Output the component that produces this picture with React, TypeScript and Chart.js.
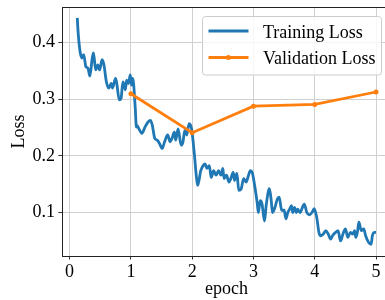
import React, { useEffect, useRef } from "react";
import { Chart, registerables } from "chart.js";

Chart.register(...registerables);

const seriesNames = ["Training Loss", "Validation Loss"];
const xTitle = "epoch";
const yTitle = "Loss";
const xTicks = [0, 1, 2, 3, 4, 5];
const yTicks = [0.1, 0.2, 0.3, 0.4];

const trainEpochs = [
  0.125, 0.14, 0.17, 0.2, 0.23, 0.265, 0.3, 0.33, 0.37, 0.39, 0.425, 0.46, 0.49, 0.53, 0.56, 0.6,
  0.64, 0.68, 0.7, 0.75, 0.77, 0.81, 0.84, 0.87, 0.91, 0.93, 0.96, 0.99, 1.01, 1.03, 1.07, 1.09,
  1.1, 1.13, 1.18, 1.23, 1.28, 1.32, 1.35, 1.39, 1.43, 1.48, 1.51, 1.55, 1.6, 1.64, 1.67, 1.71,
  1.73, 1.77, 1.82, 1.85, 1.88, 1.91, 1.95, 1.99, 2.01, 2.04, 2.07, 2.09, 2.14, 2.18, 2.21, 2.24,
  2.28, 2.31, 2.35, 2.39, 2.43, 2.47, 2.5, 2.52, 2.56, 2.6, 2.63, 2.67, 2.69, 2.73, 2.76, 2.8,
  2.84, 2.88, 2.92, 2.95, 2.98, 3.01, 3.06, 3.08, 3.11, 3.14, 3.18, 3.21, 3.26, 3.29, 3.31, 3.35,
  3.39, 3.42, 3.46, 3.5, 3.53, 3.56, 3.59, 3.62, 3.64, 3.67, 3.7, 3.72, 3.76, 3.81, 3.83, 3.87,
  3.91, 3.96, 3.99, 4.03, 4.07, 4.1, 4.14, 4.18, 4.22, 4.26, 4.29, 4.34, 4.38, 4.42, 4.46, 4.5,
  4.54, 4.58, 4.62, 4.65, 4.67, 4.7, 4.72, 4.76, 4.8, 4.83, 4.88, 4.92, 4.94, 4.98, 5.0,
];
const trainLoss = [
  0.444, 0.417, 0.385, 0.373, 0.379, 0.358, 0.355, 0.341, 0.373, 0.382, 0.352, 0.361, 0.352, 0.37, 0.361, 0.331,
  0.32, 0.328, 0.32, 0.337, 0.328, 0.299, 0.302, 0.331, 0.317, 0.334, 0.328, 0.343, 0.325, 0.337, 0.287, 0.251,
  0.254, 0.248, 0.24, 0.251, 0.26, 0.263, 0.254, 0.231, 0.228, 0.219, 0.213, 0.225, 0.237, 0.225, 0.231, 0.242,
  0.228, 0.248, 0.219, 0.225, 0.245, 0.237, 0.257, 0.248, 0.231, 0.198, 0.162, 0.148, 0.174, 0.183, 0.186, 0.178,
  0.183, 0.162, 0.174, 0.166, 0.174, 0.166, 0.178, 0.16, 0.166, 0.154, 0.16, 0.171, 0.157, 0.169, 0.139, 0.142,
  0.16, 0.154, 0.166, 0.174, 0.171, 0.154, 0.118, 0.1, 0.121, 0.115, 0.085, 0.115, 0.142, 0.121, 0.1, 0.109,
  0.124, 0.127, 0.104, 0.104, 0.089, 0.1, 0.106, 0.112, 0.1, 0.109, 0.1, 0.106, 0.1, 0.112, 0.115, 0.1,
  0.096, 0.101, 0.107, 0.093, 0.064, 0.059, 0.062, 0.068, 0.062, 0.053, 0.059, 0.065, 0.068, 0.05, 0.062, 0.071,
  0.056, 0.065, 0.062, 0.068, 0.056, 0.068, 0.083, 0.068, 0.071, 0.059, 0.047, 0.044, 0.059, 0.065, 0.065,
];

const valEpochs = [1, 2, 3, 4, 5];
const valLoss = [0.31, 0.241, 0.288, 0.291, 0.313];

const FONT = "'Liberation Serif', 'DejaVu Serif', serif";
const BLUE = "#1f77b4";
const ORANGE = "#ff7f0e";

const framePlugin = {
  id: "frameAndLegend",
  afterDraw(chart: any) {
    const { ctx, chartArea: a } = chart;
    ctx.save();
    // top spine
    ctx.strokeStyle = "#222";
    ctx.lineWidth = 1;
    ctx.beginPath();
    ctx.moveTo(a.left, a.top + 0.5);
    ctx.lineTo(a.right, a.top + 0.5);
    ctx.stroke();

    // legend box
    const bx = 202.5, by = 16.5, bw = 179, bh = 58.5;
    ctx.beginPath();
    ctx.roundRect(bx, by, bw, bh, 3);
    ctx.fillStyle = "rgba(255,255,255,0.8)";
    ctx.fill();
    ctx.strokeStyle = "#cccccc";
    ctx.lineWidth = 1;
    ctx.stroke();

    const rows = [
      { name: seriesNames[0], color: BLUE, y: 31, marker: false },
      { name: seriesNames[1], color: ORANGE, y: 57.5, marker: true },
    ];
    ctx.font = `18px ${FONT}`;
    ctx.textBaseline = "alphabetic";
    ctx.textAlign = "left";
    for (const r of rows) {
      ctx.strokeStyle = r.color;
      ctx.lineWidth = 2.8;
      ctx.beginPath();
      ctx.moveTo(208.5, r.y);
      ctx.lineTo(248.5, r.y);
      ctx.stroke();
      if (r.marker) {
        ctx.fillStyle = r.color;
        ctx.beginPath();
        ctx.arc(228.5, r.y, 2.5, 0, Math.PI * 2);
        ctx.fill();
      }
      ctx.fillStyle = "#000";
      ctx.fillText(r.name, 263, r.y + 6.5);
    }
    ctx.restore();
  },
};

const zeroPad = (s: any) => {
  s.paddingTop = 0;
  s.paddingBottom = 0;
  s.paddingLeft = 0;
  s.paddingRight = 0;
};

export default function App() {
  const ref = useRef<HTMLCanvasElement | null>(null);

  useEffect(() => {
    if (!ref.current) return;
    const chart = new Chart(ref.current, {
      type: "line",
      data: {
        datasets: [
          {
            label: seriesNames[0],
            data: trainEpochs.map((x, i) => ({ x, y: trainLoss[i] })),
            borderColor: BLUE,
            backgroundColor: BLUE,
            borderWidth: 2.8,
            pointRadius: 0,
            cubicInterpolationMode: "monotone",
            order: 1,
          },
          {
            label: seriesNames[1],
            data: valEpochs.map((x, i) => ({ x, y: valLoss[i] })),
            borderColor: ORANGE,
            backgroundColor: ORANGE,
            borderWidth: 2.8,
            pointRadius: 2.5,
            pointBorderWidth: 0,
            tension: 0,
            order: 0,
          },
        ],
      },
      options: {
        animation: false,
        responsive: false,
        devicePixelRatio: 1,
        layout: { padding: { top: 7, left: 0, right: 0, bottom: 0 } },
        plugins: { legend: { display: false }, tooltip: { enabled: false } },
        scales: {
          x: {
            type: "linear",
            min: -0.124,
            max: 5.244,
            afterBuildTicks: (s: any) => {
              s.ticks = xTicks.map((v) => ({ value: v }));
            },
            afterFit: (s: any) => {
              s.height = 44;
              zeroPad(s);
            },
            ticks: {
              font: { family: FONT, size: 18 },
              color: "#000",
              padding: 2,
              maxRotation: 0,
              callback: (v: any) => String(v),
            },
            grid: {
              color: "#d0d0d0",
              lineWidth: 1,
              tickColor: "#333",
              tickLength: 3.5,
              tickWidth: 1,
            },
            border: { display: true, color: "#222", width: 1 },
            title: {
              display: true,
              text: xTitle,
              font: { family: FONT, size: 18 },
              color: "#000",
              padding: { top: 0, bottom: 0 },
            },
          },
          y: {
            type: "linear",
            min: 0.0232,
            max: 0.4632,
            afterBuildTicks: (s: any) => {
              s.ticks = yTicks.map((v) => ({ value: v }));
            },
            afterFit: (s: any) => {
              s.width = 62;
              zeroPad(s);
            },
            ticks: {
              font: { family: FONT, size: 18 },
              color: "#000",
              padding: 3.5,
              callback: (v: any) => Number(v).toFixed(1),
            },
            grid: {
              color: "#d0d0d0",
              lineWidth: 1,
              tickColor: "#333",
              tickLength: 3.5,
              tickWidth: 1,
            },
            border: { display: true, color: "#222", width: 1 },
            title: {
              display: true,
              text: yTitle,
              font: { family: FONT, size: 18 },
              color: "#000",
              padding: { top: 8, bottom: 0 },
            },
          },
        },
      },
      plugins: [framePlugin],
    } as any);
    return () => chart.destroy();
  }, []);

  return (
    <div
      style={{
        position: "fixed",
        left: 0,
        top: 0,
        width: 385,
        height: 300,
        overflow: "hidden",
        background: "#fff",
      }}
    >
      <canvas ref={ref} width={395} height={300} style={{ display: "block", width: 395, height: 300 }} />
    </div>
  );
}
